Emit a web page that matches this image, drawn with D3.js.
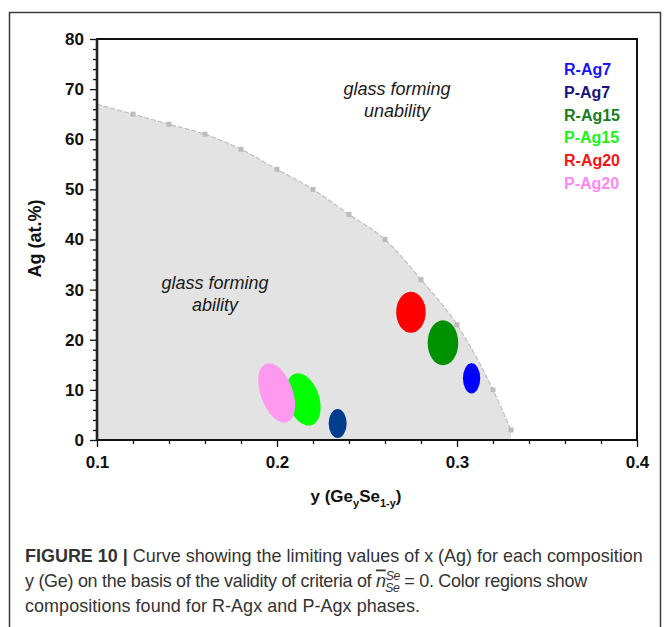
<!DOCTYPE html>
<html>

<head>
    <meta charset="utf-8">
    <script src="https://d3js.org/d3.v7.min.js"></script>
    <style>
        body {
            margin: 0;
            background: #fff;
        }

        text {
            font-family: "Liberation Sans", Arial, sans-serif;
        }
    </style>
</head>

<body>
    <div id="chart"></div>

    <script>
        // limiting curve: y (Ge fraction) vs Ag at.%
        var curveGe = [0.10, 0.12, 0.14, 0.16, 0.18, 0.20, 0.22, 0.24, 0.26, 0.28, 0.30, 0.32, 0.33];
        var curveAg = [67, 65, 63, 61, 58, 54, 50, 45, 40, 32, 23, 10, 2];

        // composition regions for each phase (centre and half-extent)
        var phases = ["R-Ag7", "P-Ag7", "R-Ag15", "P-Ag15", "R-Ag20", "P-Ag20"];
        var phaseGe = [0.3081, 0.2337, 0.2922, 0.2146, 0.2744, 0.1998];
        var phaseAg = [12.3, 3.3, 19.4, 8.1, 25.5, 9.4];
        var phaseHalfGe = [0.0048, 0.0050, 0.0085, 0.0089, 0.0082, 0.0089];
        var phaseHalfAg = [3.0, 2.9, 4.5, 5.4, 4.1, 6.2];
        var phaseTilt = [0, 0, 0, -18, 0, -20];
        var phaseFill = ["#0000ff", "#003d8f", "#009100", "#00ff00", "#ff0000", "#ff99f0"];
        var legendColor = ["#1515f5", "#141482", "#1a7d1a", "#18f518", "#f51515", "#ff88f5"];

        var xTicks = [0.1, 0.2, 0.3, 0.4];
        var yTicks = [0, 10, 20, 30, 40, 50, 60, 70, 80];

        var W = 666, H = 627;
        var svg = d3.select("#chart").append("svg")
            .attr("width", W)
            .attr("height", H);

        svg.append("rect").attr("width", W).attr("height", H).attr("fill", "#fff");

        // outer figure frame (open at the bottom)
        svg.append("path")
            .attr("d", "M9.5," + H + "V12.5H660.5V" + H)
            .attr("fill", "none")
            .attr("stroke", "#3a3a3a")
            .attr("stroke-width", 1.5);

        var x = d3.scaleLinear().domain([0.1, 0.4]).range([97, 637]);
        var y = d3.scaleLinear().domain([0, 80]).range([440, 39]);

        var pts = curveGe.map(function (g, i) { return [g, curveAg[i]]; });

        // glass forming region
        svg.append("path")
            .datum(pts)
            .attr("fill", "#e3e3e3")
            .attr("d", d3.area()
                .x(function (d) { return x(d[0]); })
                .y0(y(0))
                .y1(function (d) { return y(d[1]); })
                .curve(d3.curveMonotoneX));

        svg.append("path")
            .datum(pts)
            .attr("fill", "none")
            .attr("stroke", "#c2c2c2")
            .attr("stroke-width", 1.3)
            .attr("stroke-dasharray", "5,2")
            .attr("d", d3.line()
                .x(function (d) { return x(d[0]); })
                .y(function (d) { return y(d[1]); })
                .curve(d3.curveMonotoneX));

        svg.selectAll("rect.pt")
            .data(pts.slice(1))
            .enter().append("rect")
            .attr("class", "pt")
            .attr("x", function (d) { return x(d[0]) - 2.5; })
            .attr("y", function (d) { return y(d[1]) - 2.5; })
            .attr("width", 5)
            .attr("height", 5)
            .attr("fill", "#bcbcbc");

        // phase regions
        svg.selectAll("ellipse")
            .data(phases)
            .enter().append("ellipse")
            .attr("transform", function (d, i) {
                return "translate(" + x(phaseGe[i]) + "," + y(phaseAg[i]) + ") rotate(" + phaseTilt[i] + ")";
            })
            .attr("rx", function (d, i) { return x(phaseGe[i] + phaseHalfGe[i]) - x(phaseGe[i]); })
            .attr("ry", function (d, i) { return y(phaseAg[i] - phaseHalfAg[i]) - y(phaseAg[i]); })
            .attr("fill", function (d, i) { return phaseFill[i]; });

        // axes
        var minorY = d3.range(0, 80, 2).filter(function (v) { return v % 10 !== 0; });
        var minorX = d3.range(0, 15).map(function (k) { return 0.1 + k * 0.02; })
            .filter(function (v, k) { return k % 5 !== 0; });

        var gy = svg.append("g").attr("transform", "translate(" + x(0.1) + ",0)");
        gy.call(d3.axisLeft(y).tickValues(yTicks).tickSize(7).tickSizeOuter(0).tickPadding(6).tickFormat(d3.format("d")));
        gy.append("g").call(d3.axisLeft(y).tickValues(minorY).tickSize(4).tickSizeOuter(0).tickFormat(""));

        var gx = svg.append("g").attr("transform", "translate(0," + y(0) + ")");
        gx.call(d3.axisBottom(x).tickValues(xTicks).tickSize(7).tickSizeOuter(0).tickPadding(9).tickFormat(d3.format(".1f")));
        gx.append("g").call(d3.axisBottom(x).tickValues(minorX).tickSize(4).tickSizeOuter(0).tickFormat(""));

        svg.selectAll(".domain").remove();
        svg.selectAll(".tick line").attr("stroke", "#111").attr("stroke-width", 1.3);
        svg.selectAll(".tick text")
            .attr("fill", "#111")
            .style("font-family", "'Liberation Sans', Arial, sans-serif")
            .style("font-size", "17px")
            .style("font-weight", "bold");

        // plot box
        svg.append("rect")
            .attr("x", x(0.1)).attr("y", y(80))
            .attr("width", x(0.4) - x(0.1))
            .attr("height", y(0) - y(80))
            .attr("fill", "none")
            .attr("stroke", "#111")
            .attr("stroke-width", 2);
        svg.append("line")
            .attr("x1", x(0.1)).attr("x2", x(0.1))
            .attr("y1", y(80)).attr("y2", y(0))
            .attr("stroke", "#222")
            .attr("stroke-width", 2.6);

        // axis titles
        var xt = svg.append("text")
            .attr("x", 356).attr("y", 502)
            .attr("text-anchor", "middle")
            .attr("font-weight", "bold")
            .attr("font-size", 17)
            .attr("fill", "#111");
        xt.append("tspan").text("y (Ge");
        xt.append("tspan").attr("dy", 5).attr("font-size", 11).text("y");
        xt.append("tspan").attr("dy", -5).text("Se");
        xt.append("tspan").attr("dy", 5).attr("font-size", 11).text("1-y");
        xt.append("tspan").attr("dy", -5).text(")");

        svg.append("text")
            .attr("transform", "translate(41,238.5) rotate(-90)")
            .attr("text-anchor", "middle")
            .attr("font-weight", "bold")
            .attr("font-size", 18)
            .attr("fill", "#111")
            .text("Ag (at.%)");

        // annotations (placed in data coordinates)
        var notes = [
            { ge: 0.2667, ag: 68.8, lines: ["glass forming", "unability"] },
            { ge: 0.1656, ag: 30.1, lines: ["glass forming", "ability"] }
        ];
        notes.forEach(function (n) {
            n.lines.forEach(function (t, j) {
                svg.append("text")
                    .attr("x", x(n.ge))
                    .attr("y", y(n.ag) + j * 22)
                    .attr("text-anchor", "middle")
                    .attr("font-style", "italic")
                    .attr("font-size", 18)
                    .attr("fill", "#1a1a1a")
                    .text(t);
            });
        });

        // legend
        svg.selectAll("text.leg")
            .data(phases)
            .enter().append("text")
            .attr("class", "leg")
            .attr("x", 564)
            .attr("y", function (d, i) { return 75 + i * 22.8; })
            .attr("font-weight", "bold")
            .attr("font-size", 16)
            .attr("fill", function (d, i) { return legendColor[i]; })
            .text(function (d) { return d; });

        // caption
        var cap = svg.append("g")
            .attr("fill", "#333")
            .style("font-family", "Roboto, 'Liberation Sans', sans-serif")
            .style("font-weight", 300);

        var l1 = cap.append("text").attr("x", 25).attr("y", 561.5).attr("font-size", 18);
        l1.append("tspan").attr("font-weight", "bold").text("FIGURE 10 | ");
        l1.append("tspan").text("Curve showing the limiting values of x (Ag) for each composition");
        var fs = 18 * 618 / l1.node().getComputedTextLength();
        l1.attr("font-size", fs);

        var l2 = cap.append("text").attr("x", 25).attr("y", 586.5).attr("font-size", fs);
        l2.append("tspan").text("y (Ge) on the basis of the validity of criteria of ");
        l2.append("tspan").attr("font-style", "italic").attr("text-decoration", "overline").text("n");
        l2.append("tspan").attr("font-style", "italic").attr("font-size", fs * 0.68).attr("dy", -7).text("Se");
        var supW = l2.select("tspan:last-child").node().getComputedTextLength();
        l2.append("tspan").attr("font-style", "italic").attr("font-size", fs * 0.68).attr("dx", -supW).attr("dy", 12).text("Se");
        l2.append("tspan").attr("dy", -5).text(" = 0. Color regions show");

        var l3 = cap.append("text").attr("x", 25).attr("y", 611.5).attr("font-size", fs)
            .text("compositions found for R-Agx and P-Agx phases.");

        // squeeze or stretch lines 2 and 3 to the reference line ends
        [[l2, 563], [l3, 395]].forEach(function (p) {
            var node = p[0].node();
            var w = node.getBBox().width;
            var n = node.textContent.length;
            p[0].style("letter-spacing", ((p[1] - w) / n) + "px");
        });
    </script>
</body>

</html>
